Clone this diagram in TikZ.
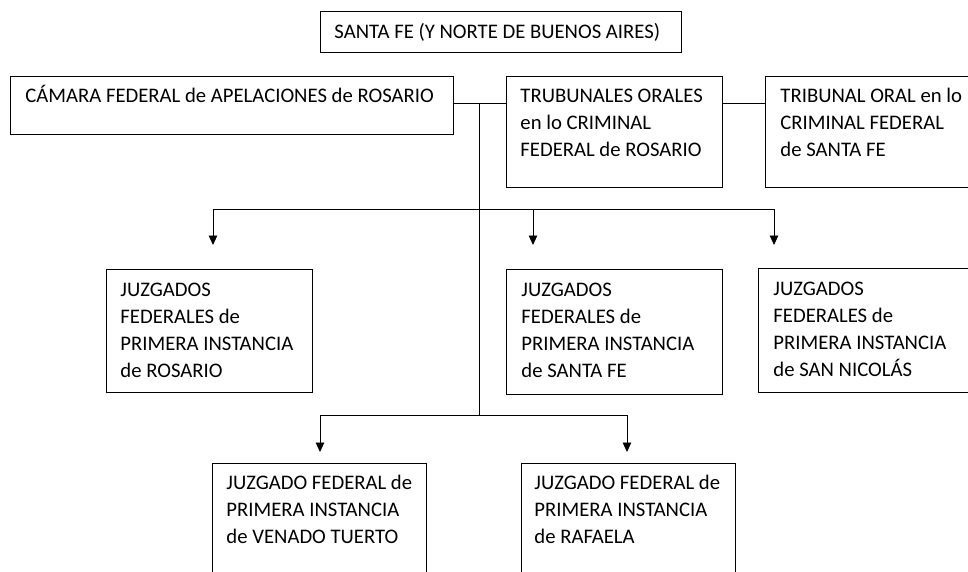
\documentclass[tikz,border=0pt]{standalone}
\usepackage{fontspec}
\setmainfont{Carlito}
\usetikzlibrary{arrows.meta}
\begin{document}
\begin{tikzpicture}[x=1pt,y=-1pt,line width=0.9pt,
  box/.style={draw,line width=1pt,anchor=north west,inner sep=0pt},
  txt/.style={anchor=north west,inner sep=0pt,align=left,font=\fontsize{20.7}{27}\selectfont},
  arr/.style={-{Triangle[width=8.5pt,length=9.5pt]}}]
\useasboundingbox (0,0) rectangle (968,571);
\clip (0,0) rectangle (968,571);
% boxes
\node[box,minimum width=361pt,minimum height=41pt] (top) at (320,11) {};
\node[box,minimum width=443pt,minimum height=58pt] (cam) at (10,76) {};
\node[box,minimum width=216pt,minimum height=111pt] (trub) at (506,76) {};
\node[box,minimum width=215pt,minimum height=111pt] (trib) at (765,76) {};
\node[box,minimum width=206pt,minimum height=123pt] (ros) at (106,269) {};
\node[box,minimum width=216pt,minimum height=125pt] (sfe) at (506,269) {};
\node[box,minimum width=220pt,minimum height=124pt] (sn) at (758,268) {};
\node[box,minimum width=214pt,minimum height=130pt] (ven) at (212,463) {};
\node[box,minimum width=214pt,minimum height=130pt] (raf) at (521,463) {};
% texts
\node[txt] (ttop) at (334,19.1) {\strut SANTA FE (Y NORTE DE BUENOS AIRES)};
\node[txt] (tcam) at (25,83.1) {\strut CÁMARA FEDERAL de APELACIONES de ROSARIO};
\node[txt] (ttrub) at (520,83.1) {\strut TRUBUNALES ORALES\\en lo CRIMINAL\\FEDERAL de ROSARIO};
\node[txt] (ttrib) at (780,83.1) {\strut TRIBUNAL ORAL en lo\\CRIMINAL FEDERAL\\de SANTA FE};
\node[txt] (tros) at (120,277.1) {\strut JUZGADOS\\FEDERALES de\\PRIMERA INSTANCIA\\de ROSARIO};
\node[txt] (tsfe) at (521,277.1) {\strut JUZGADOS\\FEDERALES de\\PRIMERA INSTANCIA\\de SANTA FE};
\node[txt] (tsn) at (773,276.1) {\strut JUZGADOS\\FEDERALES de\\PRIMERA INSTANCIA\\de SAN NICOLÁS};
\node[txt] (tven) at (226,470.1) {\strut JUZGADO FEDERAL de\\PRIMERA INSTANCIA\\de VENADO TUERTO};
\node[txt] (traf) at (534,470.1) {\strut JUZGADO FEDERAL de\\PRIMERA INSTANCIA\\de RAFAELA};
% connectors
\coordinate (j1) at (479,103);
\coordinate (j2) at (479,415);
\coordinate (a1) at (213,209);
\coordinate (a2) at (533,209);
\coordinate (a3) at (774,209);
\coordinate (t1) at (213,245);
\coordinate (t2) at (533,245);
\coordinate (t3) at (774,245);
\coordinate (b1) at (320,415);
\coordinate (b2) at (627,415);
\coordinate (u1) at (320,452);
\coordinate (u2) at (627,452);
\draw (cam.east |- j1) -- (trub.west |- j1);
\draw (trub.east |- j1) -- (trib.west |- j1);
\draw (j1) -- (j2);
\draw (a1) -- (a3);
\draw[arr] (a1) -- (t1);
\draw[arr] (a2) -- (t2);
\draw[arr] (a3) -- (t3);
\draw (b1) -- (b2);
\draw[arr] (b1) -- (u1);
\draw[arr] (b2) -- (u2);
\end{tikzpicture}
\end{document}
